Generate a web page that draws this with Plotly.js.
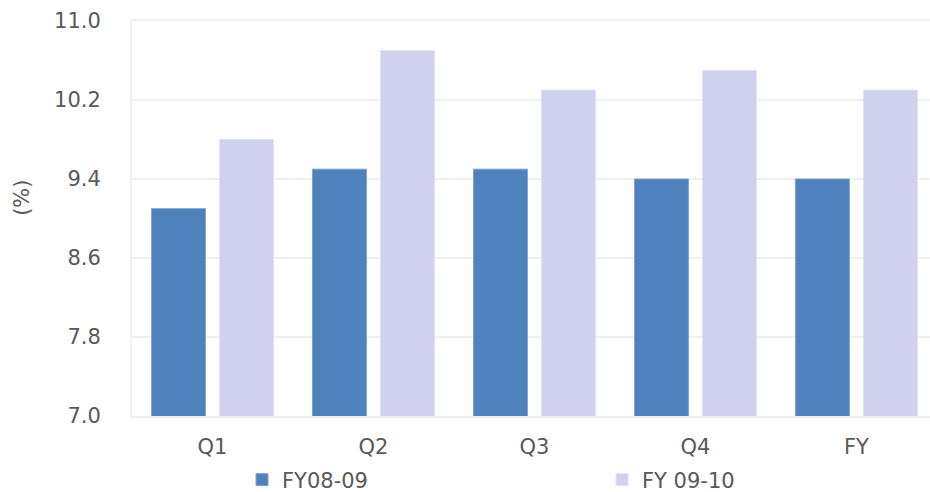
<!DOCTYPE html>
<html>
<head>
<meta charset="utf-8">
<script src="https://cdn.plot.ly/plotly-3.0.1.min.js"></script>
<style>
  html, body { margin: 0; padding: 0; background: #ffffff; }
  #chart { width: 930px; height: 492px; }
</style>
</head>
<body>
<div id="chart"></div>
<script>
// Quarterly ratios (%) for two fiscal years
const categories = ['Q1', 'Q2', 'Q3', 'Q4', 'FY'];
const fy0809 = [9.1, 9.5, 9.5, 9.4, 9.4];
const fy0910 = [9.8, 10.7, 10.3, 10.5, 10.3];
const seriesNames = ['FY08-09', 'FY 09-10'];
const yTicks = [7.0, 7.8, 8.6, 9.4, 10.2, 11.0];

const textFont = { family: 'DejaVu Sans, Verdana, sans-serif', size: 21, color: '#595959' };

const traces = [
  {
    type: 'bar', name: seriesNames[0], x: categories, y: fy0809,
    marker: { color: '#4F81BD', line: { color: '#7FA3D2', width: 1 } },
    legend: 'legend'
  },
  {
    type: 'bar', name: seriesNames[1], x: categories, y: fy0910,
    marker: { color: '#D0D0EF', line: { color: '#E2E2F7', width: 1 } },
    legend: 'legend2'
  }
];

// each series gets its own legend box so the two keys sit far apart
function legendAt(xPx) {
  return {
    orientation: 'h',
    xref: 'container', yref: 'container',
    x: xPx / 930, xanchor: 'left',
    y: 12 / 492, yanchor: 'middle',
    font: textFont,
    bgcolor: 'rgba(0,0,0,0)'
  };
}

const layout = {
  width: 930, height: 492,
  margin: { l: 132, r: 0, t: 21, b: 76, autoexpand: false },
  paper_bgcolor: '#ffffff', plot_bgcolor: '#ffffff',
  font: textFont,
  barmode: 'group',
  bargap: 0.155,
  bargroupgap: 0.206,
  showlegend: true,
  legend: legendAt(242),
  legend2: legendAt(602),
  xaxis: {
    type: 'category',
    range: [-0.5, 4.457],
    showgrid: false,
    showline: true, linecolor: '#F0F0F0', linewidth: 2, mirror: true,
    ticks: '', ticklabelstandoff: 11,
    tickfont: textFont,
    zeroline: false, fixedrange: true, automargin: false
  },
  yaxis: {
    range: [7, 11],
    tickvals: yTicks,
    tickformat: '.1f',
    showgrid: true, gridcolor: '#F0F0F0', gridwidth: 2,
    showline: true, linecolor: '#F0F0F0', linewidth: 2, mirror: true,
    ticks: '', ticklabelstandoff: 25,
    tickfont: textFont,
    zeroline: false, fixedrange: true, automargin: false
  },
  annotations: [
    {
      text: '(%)', textangle: -90, showarrow: false,
      xref: 'paper', yref: 'paper', x: -0.138, y: 0.552,
      xanchor: 'center', yanchor: 'middle',
      font: textFont
    }
  ]
};

Plotly.newPlot('chart', traces, layout, { displayModeBar: false, staticPlot: true });
</script>
</body>
</html>
